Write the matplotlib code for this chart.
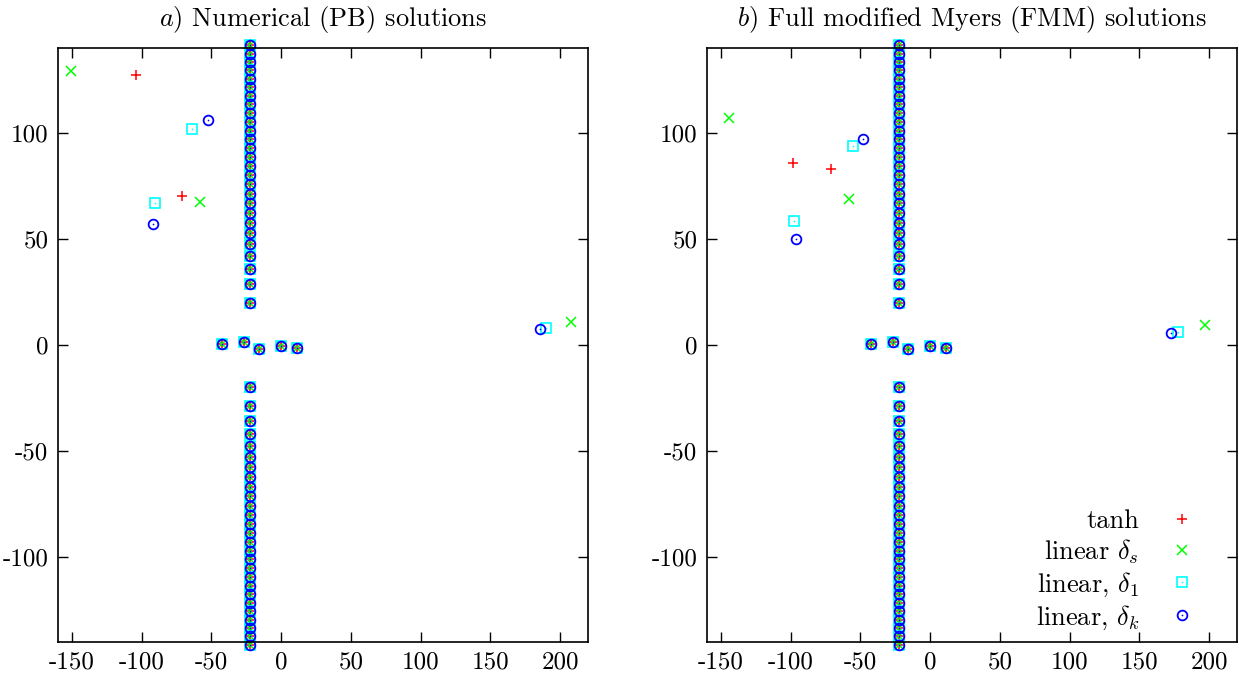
import matplotlib
matplotlib.use("Agg")
import matplotlib.pyplot as plt
from matplotlib.legend_handler import HandlerTuple

plt.rcParams["font.family"] = "serif"
plt.rcParams["font.serif"] = ["cmr10"]
plt.rcParams["mathtext.fontset"] = "cm"
plt.rcParams["axes.unicode_minus"] = False
plt.rcParams["axes.formatter.use_mathtext"] = False

# roots shared by every profile: a vertical branch (conjugate pairs) and a few near the origin
col_re = -22.0
col_im = [19.8, 28.6, 35.9, 42.0, 47.5, 52.6, 57.5, 62.2, 66.8, 71.3, 75.7, 80.0,
          84.3, 88.6, 92.8, 97.0, 101.1, 105.2, 109.3, 113.4, 117.4, 121.4, 125.4,
          129.4, 133.4, 137.3, 141.2]
near_re = [-42.3, -26.6, -15.7, 0.2, 11.4]
near_im = [0.3, 1.6, -1.9, -0.5, -1.4]

# extra roots per profile, numerical PB
pb_tanh_re = [-104.3, -70.9]
pb_tanh_im = [127.4, 70.1]
pb_lins_re = [-150.9, -58.2, 207.6]
pb_lins_im = [129.2, 67.3, 11.0]
pb_lin1_re = [-63.9, -90.8, 189.6]
pb_lin1_im = [101.9, 66.8, 8.0]
pb_link_re = [-52.8, -91.8, 185.3]
pb_link_im = [106.0, 57.2, 7.4]

# extra roots per profile, full modified Myers
fmm_tanh_re = [-98.5, -71.0]
fmm_tanh_im = [85.7, 83.2]
fmm_lins_re = [-144.0, -57.9, 197.3]
fmm_lins_im = [106.9, 68.9, 9.4]
fmm_lin1_re = [-55.0, -97.8, 178.0]
fmm_lin1_im = [94.0, 58.5, 6.1]
fmm_link_re = [-48.1, -95.9, 172.9]
fmm_link_im = [97.2, 50.2, 5.7]

labels = ["tanh", r"linear $\delta_s$", r"linear, $\delta_1$", r"linear, $\delta_k$"]
colors = ["#ff0000", "#00ff00", "#00ffff", "#0000ff"]


def all_roots(re, im):
    xs = [col_re] * len(col_im) * 2 + near_re + re
    ys = col_im + [-v for v in col_im] + near_im + im
    return xs, ys


def draw_panel(ax, series, title):
    handles = []
    styles = [dict(marker="+", ms=7.5, mew=1.1),
              dict(marker="x", ms=6.5, mew=1.1),
              dict(marker="s", ms=6.5, mew=1.2, mfc="none"),
              dict(marker="o", ms=7, mew=1.3, mfc="none")]
    for (re, im), c, st in zip(series, colors, styles):
        xs, ys = all_roots(re, im)
        h, = ax.plot(xs, ys, ls="none", color=c, clip_on=False, **st)
        if st["marker"] in ("s", "o"):
            d, = ax.plot(xs, ys, ls="none", marker="o", ms=1.2, mew=0, color=c, clip_on=False)
            handles.append((h, d))
        else:
            handles.append(h)
    ax.set_xlim(-160, 220)
    ax.set_ylim(-140, 140)
    ax.set_xticks(range(-150, 201, 50))
    ax.set_yticks(range(-100, 101, 50))
    ax.tick_params(direction="in", top=True, right=True, length=7, width=1,
                   labelsize=18, pad=7)
    for s in ax.spines.values():
        s.set_linewidth(1.2)
    ax.set_title(title, fontsize=19, pad=16)
    return handles


fig = plt.figure(figsize=(12.39, 6.79), dpi=100)
ax1 = fig.add_axes([0.0468, 0.0545, 0.4278, 0.8748])
ax2 = fig.add_axes([0.5706, 0.0545, 0.4278, 0.8748])

draw_panel(ax1, [(pb_tanh_re, pb_tanh_im), (pb_lins_re, pb_lins_im),
                 (pb_lin1_re, pb_lin1_im), (pb_link_re, pb_link_im)],
           r"$a$) Numerical (PB) solutions")
hs = draw_panel(ax2, [(fmm_tanh_re, fmm_tanh_im), (fmm_lins_re, fmm_lins_im),
                      (fmm_lin1_re, fmm_lin1_im), (fmm_link_re, fmm_link_im)],
                r"$b$) Full modified Myers (FMM) solutions")

ax2.legend(hs, labels, loc="lower right", frameon=False, markerfirst=False,
           fontsize=19, handler_map={tuple: HandlerTuple(ndivide=1)},
           handlelength=1.2, handletextpad=1.02, labelspacing=0.17,
           borderaxespad=0.3, borderpad=0.3, bbox_to_anchor=(0.956, -0.009))

fig.savefig("out.png", dpi=100)
